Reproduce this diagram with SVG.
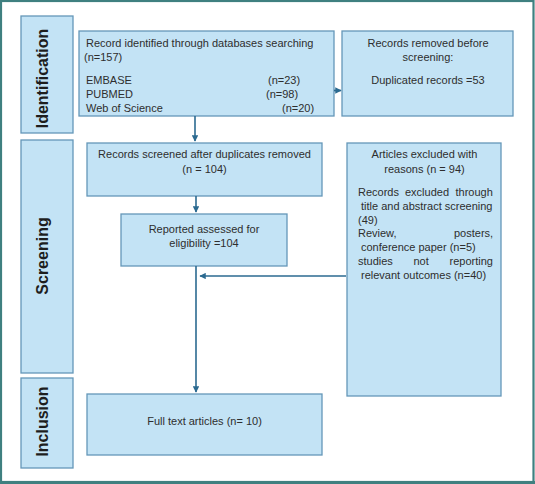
<svg xmlns="http://www.w3.org/2000/svg" width="535" height="484" viewBox="0 0 535 484">
<defs>
<style>
.box{fill:#c3e3f5;stroke:#6597b8;stroke-width:1.3}
.t{font-family:"Liberation Sans",Arial,sans-serif;font-size:11px;fill:#2e2e2e}
.c{text-anchor:middle}
.lab{font-family:"Liberation Sans",Arial,sans-serif;font-size:16px;font-weight:bold;fill:#1e1e1e;text-anchor:middle}
.ln{stroke:#2b6a90;stroke-width:1.6;fill:none}
</style>
<marker id="ah" viewBox="0 0 10 10" refX="9" refY="5" markerWidth="4" markerHeight="4" orient="auto" markerUnits="strokeWidth">
<path d="M0,0 L10,5 L0,10 z" fill="#2b6a90"/>
</marker>
</defs>
<rect x="0" y="0" width="535" height="484" fill="#ffffff"/>
<rect x="1" y="1" width="532.5" height="481" fill="none" stroke="#3f8080" stroke-width="2.2"/>
<rect x="0" y="481" width="535" height="3" fill="#3f8080"/>

<g id="label-identification">
<rect class="box" x="21" y="16" width="52" height="117"/>
<text class="lab" transform="translate(47.5,78.5) rotate(-90)">Identification</text>
</g>
<g id="label-screening">
<rect class="box" x="21" y="140" width="52" height="233"/>
<text class="lab" transform="translate(47.5,256) rotate(-90)">Screening</text>
</g>
<g id="label-inclusion">
<rect class="box" x="21" y="378" width="52" height="90"/>
<text class="lab" transform="translate(47.5,421.5) rotate(-90)">Inclusion</text>
</g>

<g id="identified">
<rect class="box" x="79" y="31" width="255" height="85"/>
<text class="t" x="86" y="47">Record identified through databases searching</text>
<text class="t" x="84" y="61">(n=157)</text>
<text class="t" x="86" y="84">EMBASE<tspan x="268">(n=23)</tspan></text>
<text class="t" x="86" y="98">PUBMED<tspan x="266">(n=98)</tspan></text>
<text class="t" x="86" y="112">Web of Science<tspan x="282">(n=20)</tspan></text>
</g>

<g id="removed">
<rect class="box" x="342" y="31" width="171" height="85"/>
<text class="t c" x="428" y="47">Records removed before</text>
<text class="t c" x="428" y="61">screening:</text>
<text class="t c" x="428" y="84">Duplicated records =53</text>
</g>

<g id="screened">
<rect class="box" x="87" y="143" width="235" height="53"/>
<text class="t c" x="204.5" y="158">Records screened after duplicates removed</text>
<text class="t c" x="204.5" y="173">(n = 104)</text>
</g>

<g id="assessed">
<rect class="box" x="121" y="214" width="166" height="52"/>
<text class="t c" x="204" y="233">Reported assessed for</text>
<text class="t c" x="204" y="247">eligibility =104</text>
</g>

<g id="excluded">
<rect class="box" x="347" y="143" width="154" height="253"/>
<text class="t c" x="424.5" y="158">Articles excluded with</text>
<text class="t c" x="424.5" y="173">reasons (n = 94)</text>
<text class="t" x="358" y="196">Records <tspan x="405">excluded </tspan><tspan x="455.5">through</tspan></text>
<text class="t" x="361" y="210">title and abstract screening</text>
<text class="t" x="358" y="224">(49)</text>
<text class="t" x="358" y="237">Review, <tspan x="454">posters,</tspan></text>
<text class="t" x="361" y="251">conference paper (n=5)</text>
<text class="t" x="358" y="265">studies <tspan x="413.5">not </tspan><tspan x="449.5">reporting</tspan></text>
<text class="t" x="361" y="279">relevant outcomes (n=40)</text>
</g>

<g id="included">
<rect class="box" x="87" y="394" width="235" height="61"/>
<text class="t c" x="204.5" y="425">Full text articles (n= 10)</text>
</g>

<g id="connectors">
<line class="ln" x1="334" y1="90.5" x2="341" y2="90.5" marker-end="url(#ah)"/>
<line class="ln" x1="195" y1="116" x2="195" y2="141" marker-end="url(#ah)"/>
<line class="ln" x1="196" y1="196" x2="196" y2="212" marker-end="url(#ah)"/>
<line class="ln" x1="196" y1="266" x2="196" y2="392" marker-end="url(#ah)"/>
<line class="ln" x1="346" y1="276" x2="200" y2="276" marker-end="url(#ah)"/>
</g>
</svg>
